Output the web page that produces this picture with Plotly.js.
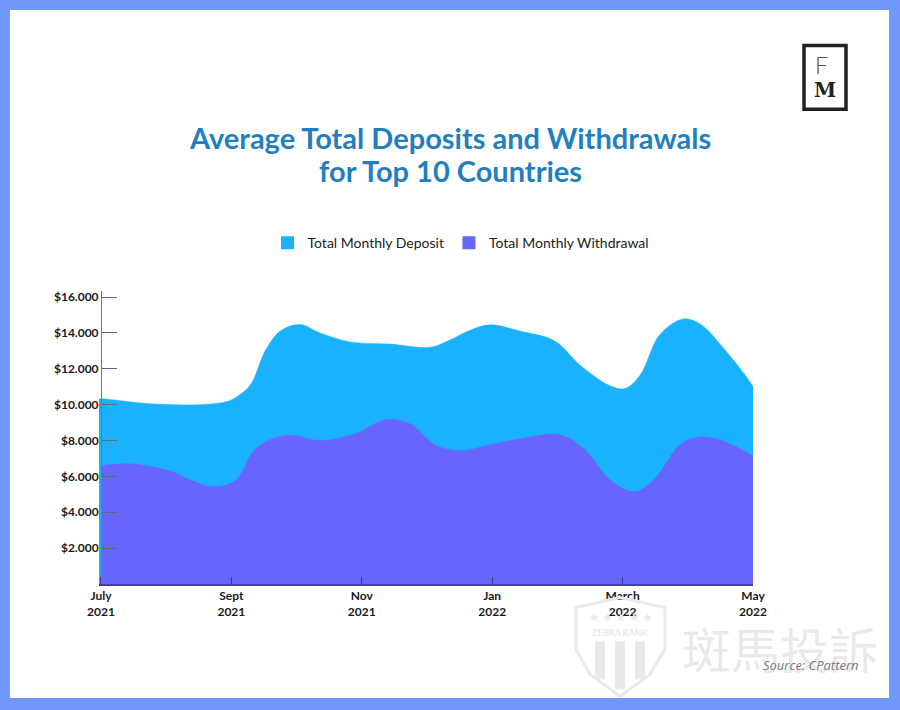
<!DOCTYPE html>
<html><head><meta charset="utf-8">
<script src="https://cdn.plot.ly/plotly-3.0.1.min.js"></script>
<style>html,body{margin:0;padding:0;background:#7099fb;width:900px;height:710px;overflow:hidden}
#c{position:absolute;left:10px;top:10px;width:879px;height:688px;background:#fff}</style>
</head><body><div id="c"></div>
<script>
const depositMonths=[-0.03,0,0.75,1.52,1.9,2.02,2.29,2.52,2.75,3.05,3.36,3.82,4.43,5.05,5.35,5.66,5.97,6.43,6.96,7.35,7.81,8.04,8.27,8.57,8.93,9.19,9.57,9.88,10];
const depositValues=[10300,10326,10050,10000,10150,10300,11100,13000,14100,14470,14000,13500,13380,13200,13600,14150,14450,14100,13550,12200,11050,10900,11650,13900,14780,14500,13050,11650,11000];
const withdrawalMonths=[0,0.44,1.06,1.37,1.70,2.06,2.36,2.67,2.98,3.36,3.9,4.36,4.74,5.12,5.51,5.97,6.58,7.04,7.42,7.81,8.19,8.5,8.88,9.19,9.57,10];
const withdrawalValues=[6600,6700,6300,5800,5430,5760,7500,8150,8270,8000,8380,9150,8930,7770,7430,7770,8200,8320,7500,5800,5150,5900,7770,8200,7930,7150];
const xTickMonths=[0,2,4,6,8,10];
const xTickLabels=['July<br>2021','Sept<br>2021','Nov<br>2021','Jan<br>2022','March<br>2022','May<br>2022'];
const yTickVals=[2000,4000,6000,8000,10000,12000,14000,16000];
const yTickLabels=['$2.000','$4.000','$6.000','$8.000','$10.000','$12.000','$14.000','$16.000'];
const seriesNames=['Total Monthly Deposit','Total Monthly Withdrawal'];
const seriesColors=['#1ab2ff','#6666ff'];

const L=99,R=753,T=291,B=584.5;
const fx=p=>(p-L)/(R-L), fy=p=>(B-p)/(B-T);
const note=(px,py,text,size,color,extra)=>Object.assign({xref:'paper',yref:'paper',x:fx(px),y:fy(py),text,showarrow:false,
  xanchor:'center',yanchor:'middle',font:{family:'Lato',size,color}},extra||{});
const pathOf=pts=>'M'+pts.map(p=>fx(p[0])+','+fy(p[1])).join(' L')+' Z';
const wm='#e9e9e9';
const traces=[
 {x:depositMonths,y:depositValues,mode:'lines',fill:'tozeroy',fillcolor:seriesColors[0],line:{color:seriesColors[0],width:0.5,shape:'spline',smoothing:1},showlegend:false,hoverinfo:'skip'},
 {x:withdrawalMonths,y:withdrawalValues,mode:'lines',fill:'tozeroy',fillcolor:seriesColors[1],line:{color:seriesColors[1],width:0.5,shape:'spline',smoothing:1},showlegend:false,hoverinfo:'skip'},
 {x:[null],y:[null],mode:'markers',name:seriesNames[0],marker:{symbol:'square',size:13,color:seriesColors[0]}},
 {x:[null],y:[null],mode:'markers',name:seriesNames[1],marker:{symbol:'square',size:13,color:seriesColors[1]}}
];
const layout={
 width:879,height:688,autosize:false,paper_bgcolor:'#fff',plot_bgcolor:'#fff',
 margin:{l:L-10,r:889-R,t:T-10,b:698-B,pad:0},
 font:{family:'Lato',color:'#111'},
 xaxis:{range:[-0.03,10],tickmode:'array',tickvals:xTickMonths,ticktext:xTickLabels,ticks:'inside',ticklen:7,tickcolor:'#3b3b8a',
   showline:true,linecolor:'#3f3fa8',linewidth:1.5,showgrid:false,zeroline:false,tickangle:0,tickfont:{family:'Lato',size:12,weight:700,color:'#1a1a1a'}},
 yaxis:{range:[0,16337],anchor:'free',position:fx(101),tickmode:'array',tickvals:yTickVals,ticktext:yTickLabels,ticks:'inside',ticklen:15,tickcolor:'#66666f',tickwidth:1,
   showline:true,linecolor:'#777',linewidth:1.2,showgrid:false,zeroline:false,tickfont:{family:'Lato',size:12,weight:700,color:'#1a1a1a'}},
 showlegend:true,
 legend:{orientation:'h',xref:'paper',yref:'paper',x:fx(461),y:fy(243),xanchor:'center',yanchor:'middle',font:{family:'Lato',size:14,color:'#222'},bgcolor:'rgba(0,0,0,0)',itemclick:false,tracegroupgap:0},
 annotations:[
  note(450,137,'Average Total Deposits and Withdrawals',29,'#1f7fbf',{font:{family:'Lato',size:29,weight:700,color:'#1f7fbf'}}),
  note(450,170,'for Top 10 Countries',29,'#1f7fbf',{font:{family:'Lato',size:29,weight:700,color:'#1f7fbf'}}),
  note(821,65,'F',22,'#555',{font:{family:'Lato',size:23,weight:300,color:'#555'}}),
  note(825,90,'M',22,'#222',{font:{family:'DejaVu Serif',size:20,weight:700,color:'#222'}}),
  note(780,648,'斑馬投訴',49,wm,{font:{family:'Noto Sans CJK TC',size:49,color:wm}}),
  note(620,633,'ZEBRA RANK',9,wm,{font:{family:'Lato',size:9,weight:900,color:wm}}),
  note(620,618,'★ ★ ★ ★ ★',11,wm,{font:{family:'DejaVu Sans',size:11,color:wm}}),
  note(811,666,'Source: CPattern',13,'#777',{font:{family:'Open Sans',size:13,style:'italic',color:'#777'}})
 ],
 shapes:[
  {type:'rect',xref:'paper',yref:'paper',x0:fx(804),x1:fx(846),y0:fy(109),y1:fy(45),line:{color:'#222',width:3.5},fillcolor:'rgba(0,0,0,0)'},
  {type:'path',xref:'paper',yref:'paper',path:pathOf([[576,608],[620,598],[665,608],[665,650],[650,675],[620,697],[590,675],[576,650]]),line:{color:wm,width:3},fillcolor:'rgba(0,0,0,0)',layer:'above'},
  {type:'rect',xref:'paper',yref:'paper',x0:fx(595),x1:fx(605),y0:fy(642),y1:fy(680),line:{width:0},fillcolor:wm},
  {type:'rect',xref:'paper',yref:'paper',x0:fx(615),x1:fx(625),y0:fy(642),y1:fy(690),line:{width:0},fillcolor:wm},
  {type:'rect',xref:'paper',yref:'paper',x0:fx(635),x1:fx(645),y0:fy(642),y1:fy(680),line:{width:0},fillcolor:wm}
 ]
};
Plotly.newPlot('c',traces,layout,{displayModeBar:false,staticPlot:true});
</script></body></html>
